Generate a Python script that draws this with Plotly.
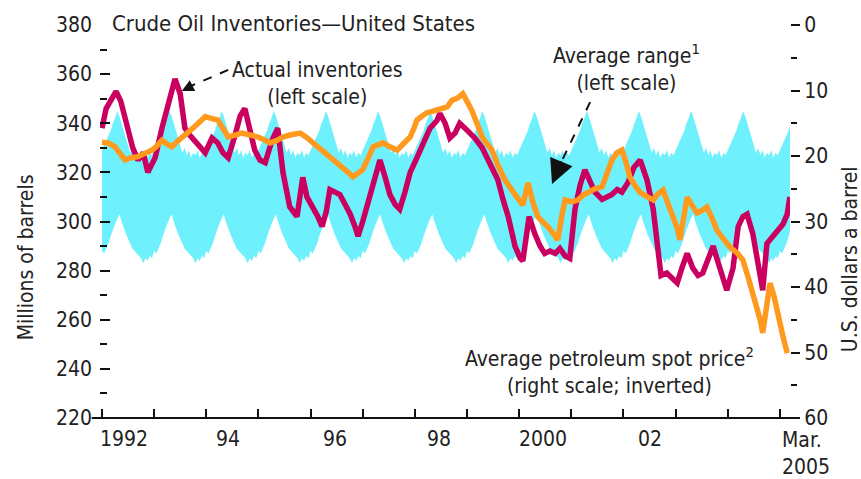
import plotly.graph_objects as go

# ---------------- data ----------------
inv_years = [1992.00, 1992.08, 1992.19, 1992.27, 1992.36, 1992.50, 1992.59, 1992.69, 1992.79, 1992.88,
             1993.02, 1993.15, 1993.27, 1993.40, 1993.50, 1993.59, 1993.69, 1993.78, 1993.88, 1993.98,
             1994.11, 1994.22, 1994.32, 1994.42, 1994.55, 1994.65, 1994.74, 1994.84, 1994.93,
             1995.03, 1995.13, 1995.26, 1995.37, 1995.47, 1995.60, 1995.74, 1995.80, 1995.85, 1995.93,
             1996.05, 1996.14, 1996.22, 1996.30, 1996.37, 1996.47, 1996.56, 1996.66, 1996.76, 1996.85, 1996.91,
             1997.00, 1997.14, 1997.23, 1997.33, 1997.43, 1997.52, 1997.62, 1997.71, 1997.81, 1997.91,
             1998.04, 1998.16, 1998.29, 1998.42, 1998.48, 1998.58, 1998.67, 1998.77, 1998.86, 1998.96,
             1999.06, 1999.15, 1999.29, 1999.40, 1999.50, 1999.59, 1999.69, 1999.79, 1999.92,
             2000.02, 2000.07, 2000.13, 2000.19, 2000.30, 2000.40, 2000.49, 2000.59, 2000.69, 2000.78, 2000.88, 2000.97,
             2001.07, 2001.17, 2001.26, 2001.36, 2001.45, 2001.59, 2001.70, 2001.78, 2001.88, 2001.97,
             2002.09, 2002.20, 2002.32, 2002.45, 2002.57, 2002.64, 2002.72, 2002.83, 2002.93,
             2003.03, 2003.12, 2003.22, 2003.33, 2003.43, 2003.52, 2003.62, 2003.72, 2003.79, 2003.89, 2003.98,
             2004.10, 2004.20, 2004.29, 2004.37, 2004.48, 2004.56, 2004.62, 2004.67, 2004.75, 2004.87, 2004.96,
             2005.06, 2005.14, 2005.19]
inv_values = [338, 346, 350, 353, 349, 338, 330, 325, 328, 320,
              326, 338, 348, 358, 352, 338, 335, 333, 330, 328,
              334, 332, 328, 326, 335, 343, 346, 336, 329,
              325, 324, 333, 338, 320, 306, 302, 310, 318, 310,
              306, 302, 298, 304, 313, 312, 311, 307, 303, 298, 294,
              300, 311, 318, 325, 318, 311, 307, 305, 312, 320,
              326, 332, 338, 341, 344, 340, 334, 336, 340, 338,
              336, 334, 330, 325, 321, 317, 309, 302, 290,
              285, 284, 295, 302, 295, 290, 287, 288, 287, 289, 286, 285,
              305, 315, 321, 316, 312, 309, 310, 311, 313, 312,
              316, 322, 325, 317, 305, 292, 278, 279, 277,
              275, 281, 287, 281, 278, 279, 284, 290, 285, 278, 272,
              281, 298, 302, 303, 295, 285, 279, 272, 291, 294, 296,
              299, 303, 310]

price_years = [1992.00, 1992.12, 1992.25, 1992.35, 1992.44, 1992.54, 1992.69, 1992.82, 1992.96,
               1993.05, 1993.15, 1993.25, 1993.34, 1993.44, 1993.53, 1993.65, 1993.78, 1993.88, 1993.98,
               1994.11, 1994.22, 1994.32, 1994.42, 1994.55, 1994.68, 1994.84, 1994.99,
               1995.13, 1995.22, 1995.36, 1995.47, 1995.60, 1995.80, 1995.93,
               1996.05, 1996.18, 1996.31, 1996.47, 1996.62, 1996.72, 1996.81, 1996.91,
               1997.00, 1997.10, 1997.20, 1997.29, 1997.39, 1997.52, 1997.66, 1997.77, 1997.91, 1997.98,
               1998.04, 1998.14, 1998.23, 1998.33, 1998.42, 1998.52, 1998.62, 1998.71, 1998.81, 1998.92,
               1999.02, 1999.09, 1999.19, 1999.29, 1999.38, 1999.48, 1999.59, 1999.73, 1999.86, 1999.98,
               2000.07, 2000.17, 2000.26, 2000.36, 2000.46, 2000.55, 2000.65, 2000.74, 2000.82, 2000.88,
               2001.01, 2001.13, 2001.22, 2001.32, 2001.45, 2001.59, 2001.68, 2001.78, 2001.88, 2001.97,
               2002.05, 2002.12, 2002.22, 2002.32, 2002.45, 2002.57, 2002.66, 2002.76, 2002.85, 2002.95,
               2003.03, 2003.08, 2003.16, 2003.22, 2003.31, 2003.41, 2003.51, 2003.60, 2003.70, 2003.79, 2003.91,
               2004.04, 2004.18, 2004.29, 2004.39, 2004.48, 2004.56, 2004.62, 2004.67, 2004.73, 2004.81,
               2004.89, 2004.94, 2005.00, 2005.06, 2005.14]
price_values = [17.9, 18.0, 18.6, 19.8, 20.6, 20.3, 20.1, 19.6, 19.1,
                18.5, 17.6, 18.2, 18.6, 17.8, 17.1, 16.4, 15.5, 14.8, 14.0,
                14.3, 14.5, 15.8, 17.1, 16.8, 16.5, 16.8, 17.1,
                17.6, 18.0, 17.6, 17.1, 16.8, 16.5, 17.2,
                18.0, 18.7, 19.5, 20.6, 21.7, 22.5, 23.2, 22.6,
                22.1, 20.4, 18.6, 18.3, 18.0, 18.6, 19.1, 18.2, 17.1, 15.8,
                14.5, 13.9, 13.4, 13.2, 13.0, 12.7, 12.5, 11.5, 11.2, 10.5,
                11.8, 13.0, 15.0, 17.1, 18.1, 19.1, 21.4, 23.7, 25.2, 26.7,
                27.5, 24.1, 27.0, 29.3, 30.0, 30.8, 31.8, 32.8, 29.0, 26.7,
                27.0, 26.7, 26.0, 25.6, 25.0, 24.7, 22.6, 20.6, 19.5, 19.1,
                21.0, 23.2, 24.5, 25.6, 26.2, 26.7, 25.8, 25.2, 27.2, 29.3,
                31.0, 32.8, 29.5, 26.3, 27.5, 28.7, 28.3, 27.8, 29.5, 31.3, 32.6,
                33.9, 34.8, 35.9, 38.5, 40.9, 43.0, 45.0, 47.0, 43.0, 39.4,
                41.5, 43.5, 45.5, 47.6, 50.1]

# average range: seasonal profile (fraction of year -> millions of barrels), same for every year
band_years = list(range(1992, 2006))
band_phase = [0/24, 1/24, 2/24, 3/24, 4/24, 5/24, 6/24, 7/24, 8/24, 9/24, 10/24, 11/24,
              12/24, 13/24, 14/24, 15/24, 16/24, 17/24, 18/24, 19/24, 20/24, 21/24, 22/24, 23/24]
band_upper_profile = [329, 331, 333, 335, 337, 340, 342, 345, 343, 340, 337, 334,
                      331, 328, 330, 327, 329, 326, 328, 327, 329, 326, 328, 327]
band_lower_profile = [288, 287, 289, 291, 294, 297, 299, 301, 303, 300, 297, 295,
                      293, 291, 289, 288, 287, 286, 285, 283, 285, 284, 286, 285]
band_end = 2005.21

x_labels = ["1992", "94", "96", "98", "2000", "02"]
x_label_pos = [1992.42, 1994.42, 1996.46, 1998.46, 2000.46, 2002.5]
x_tick_years = list(range(1992, 2006))

# ---------------- build ----------------
band_x, band_hi, band_lo = [], [], []
for yr in band_years:
    for ph, hi, lo in zip(band_phase, band_upper_profile, band_lower_profile):
        if yr + ph <= band_end:
            band_x.append(yr + ph)
            band_hi.append(hi)
            band_lo.append(lo)

FONT = "Liberation Sans Narrow, Arial Narrow, DejaVu Sans Condensed, sans-serif"
CYAN = "#6ff0fd"
MAGENTA = "#c9005f"
ORANGE = "#ff9a1e"
INK = "#111"

fig = go.Figure()
fig.add_trace(go.Scatter(x=band_x, y=band_lo, mode="lines", line=dict(width=0, color=CYAN),
                         hoverinfo="skip", showlegend=False))
fig.add_trace(go.Scatter(x=band_x, y=band_hi, mode="lines", line=dict(width=0, color=CYAN),
                         fill="tonexty", fillcolor=CYAN, showlegend=False, name="Average range"))
fig.add_trace(go.Scatter(x=inv_years, y=inv_values, mode="lines",
                         line=dict(color=MAGENTA, width=5.5), showlegend=False,
                         name="Actual inventories"))
fig.add_trace(go.Scatter(x=price_years, y=price_values, mode="lines", yaxis="y2",
                         line=dict(color=ORANGE, width=5.5), showlegend=False,
                         name="Average petroleum spot price"))

x_range = [1991.962, 2005.193]

fig.update_layout(
    width=861, height=479,
    margin=dict(l=100, r=71, t=25, b=61),
    paper_bgcolor="white", plot_bgcolor="white",
    font=dict(family=FONT, size=21, color="#222"),
    xaxis=dict(range=x_range, showgrid=False, zeroline=False, showline=False,
               tickvals=x_tick_years, ticks="inside", ticklen=9, tickwidth=2, tickcolor=INK,
               showticklabels=False),
    yaxis=dict(range=[220, 380], showgrid=False, zeroline=False, showline=False,
               tickvals=[220, 240, 260, 280, 300, 320, 340, 360, 380],
               ticks="inside", ticklen=10, tickwidth=2, tickcolor=INK,
               ticklabelstandoff=7,
               minor=dict(tickvals=[230, 250, 270, 290, 310, 330, 350, 370],
                          ticks="inside", ticklen=7, tickwidth=2, tickcolor=INK),
               tickfont=dict(size=21)),
    yaxis2=dict(range=[60, 0], overlaying="y", side="right", showgrid=False, zeroline=False,
                showline=False, tickvals=[0, 10, 20, 30, 40, 50, 60],
                ticks="outside", ticklen=9, tickwidth=2, tickcolor=INK,
                minor=dict(tickvals=[5, 15, 25, 35, 45, 55], ticks="outside", ticklen=6,
                           tickwidth=2, tickcolor=INK),
                tickfont=dict(size=21)),
)

# x axis baseline extending beyond plot
fig.add_shape(type="line", xref="paper", yref="paper", x0=-0.012, x1=1.012, y0=0, y1=0,
              line=dict(color=INK, width=2))

ann = []
for lab, pos in zip(x_labels, x_label_pos):
    ann.append(dict(x=pos, y=0, xref="x", yref="paper", text=lab, showarrow=False,
                    xanchor="center", yanchor="top", yshift=-7, font=dict(size=21)))
ann.append(dict(x=2005.0, y=0, xref="x", yref="paper", text="Mar.<br>2005", showarrow=False,
                xanchor="left", yanchor="top", yshift=-8, align="left", font=dict(size=21)))

ann.append(dict(x=0.0145, y=1, xref="paper", yref="paper",
                text="Crude Oil Inventories\u2014United States", showarrow=False,
                xanchor="left", yanchor="middle", yshift=2, font=dict(size=22)))
ann.append(dict(x=-0.108, y=0.41, xref="paper", yref="paper", text="Millions of barrels",
                showarrow=False, textangle=-90, xanchor="center", yanchor="middle",
                font=dict(size=21)))
ann.append(dict(x=1.086, y=0.405, xref="paper", yref="paper", text="U.S. dollars a barrel",
                showarrow=False, textangle=-90, xanchor="center", yanchor="middle",
                font=dict(size=21)))

ann.append(dict(x=1996.14, y=0.852, xref="x", yref="paper",
                text="Actual inventories<br>(left scale)", showarrow=False,
                xanchor="center", yanchor="middle", font=dict(size=21)))
ann.append(dict(x=2002.05, y=0.893, xref="x", yref="paper",
                text="Average range<sup>1</sup><br>(left scale)", showarrow=False,
                xanchor="center", yanchor="middle", font=dict(size=21)))
ann.append(dict(x=2001.73, y=0.120, xref="x", yref="paper",
                text="Average petroleum spot price<sup>2</sup><br>(right scale; inverted)",
                showarrow=False, xanchor="center", yanchor="middle", font=dict(size=21)))

# dashed leader lines
fig.add_shape(type="line", xref="x", yref="y", x0=1994.42, y0=361.7, x1=1993.61, y1=354.3,
              line=dict(color=INK, width=2, dash="dash"))
fig.add_shape(type="line", xref="x", yref="y", x0=2001.36, y0=348.6, x1=2000.78, y1=323.0,
              line=dict(color=INK, width=2, dash="dash"))
# arrow heads
ann.append(dict(x=1993.53, y=353.1, xref="x", yref="y", ax=6, ay=-3, text="", showarrow=True,
                arrowhead=2, arrowsize=1.2, arrowwidth=2, arrowcolor=INK))
ann.append(dict(x=2000.63, y=315.3, xref="x", yref="y", ax=10, ay=-24, text="", showarrow=True,
                arrowhead=2, arrowsize=2.2, arrowwidth=2.2, arrowcolor=INK))

fig.update_layout(annotations=ann)
fig.write_html("out.html", config={"displayModeBar": False},
               post_script="document.body.style.margin='0';")
